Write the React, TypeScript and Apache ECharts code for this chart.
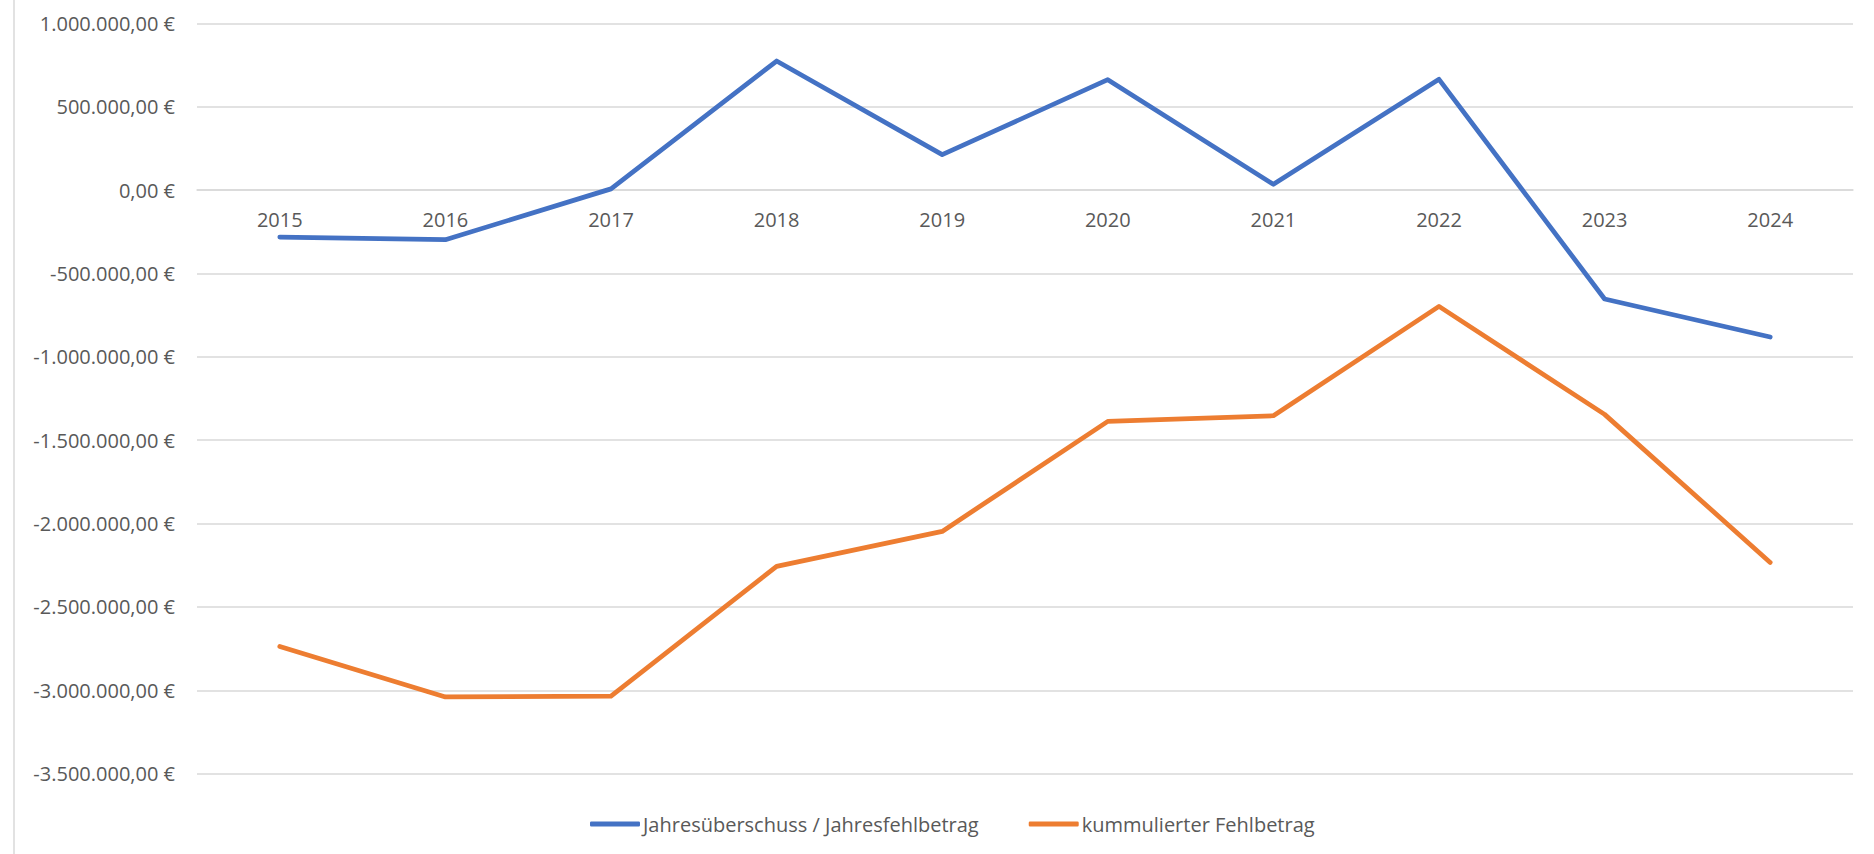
import React, { useEffect, useRef } from "react";
import * as echarts from "echarts";

const years = ["2015", "2016", "2017", "2018", "2019", "2020", "2021", "2022", "2023", "2024"];
const jahresErgebnis = [-281000, -297000, 8000, 775000, 213000, 663000, 35000, 665000, -653000, -881000];
const kumulierterFehlbetrag = [-2737000, -3040000, -3035000, -2257000, -2047000, -1387000, -1353000, -697000, -1345000, -2233000];
const seriesNames = ["Jahresüberschuss / Jahresfehlbetrag", "kummulierter Fehlbetrag"];

const yMin = -3500000;
const yMax = 1000000;
const yInterval = 500000;

const gridTop = 23.5;
const gridBottom = 80.4;
const chartHeight = 854;

function formatEuro(v: number): string {
  const neg = v < 0;
  const abs = Math.round(Math.abs(v));
  const s = String(abs).replace(/\B(?=(\d{3})+(?!\d))/g, ".");
  return (neg ? "-" : "") + s + ",00 €";
}

export default function App() {
  const ref = useRef<HTMLDivElement>(null);
  useEffect(() => {
    if (!ref.current) return;
    const chart = echarts.init(ref.current, undefined, { renderer: "svg" });
    const font = "'Open Sans', sans-serif";
    // move the category axis up to the zero line of the value axis
    const plotH = chartHeight - gridTop - gridBottom;
    const zeroFromBottom = ((0 - yMin) / (yMax - yMin)) * plotH;
    chart.setOption({
      animation: false,
      backgroundColor: "#ffffff",
      grid: { left: 197, right: 21, top: gridTop, bottom: gridBottom },
      xAxis: {
        type: "category",
        data: years,
        boundaryGap: true,
        position: "bottom",
        offset: -zeroFromBottom,
        axisLine: { show: true, onZero: false, lineStyle: { color: "#d9d9d9", width: 1.5 } },
        axisTick: { show: false },
        axisLabel: { color: "#595959", fontSize: 20, fontFamily: font, margin: 19 },
        splitLine: { show: false },
      },
      yAxis: {
        type: "value",
        min: yMin,
        max: yMax,
        interval: yInterval,
        axisLine: { show: false },
        axisTick: { show: false },
        axisLabel: {
          color: "#595959",
          fontSize: 20,
          fontFamily: font,
          margin: 22,
          formatter: (v: number) => formatEuro(v),
        },
        splitLine: { lineStyle: { color: "#d9d9d9", width: 1.5 } },
      },
      legend: {
        left: 585,
        top: 807,
        itemWidth: 50,
        itemHeight: 5,
        itemGap: 50,
        icon: "roundRect",
        textStyle: { color: "#595959", fontSize: 20, fontFamily: font, lineHeight: 24, padding: [0, 0, 0, -2] },
        data: seriesNames,
      },
      graphic: [
        {
          type: "line",
          shape: { x1: 14, y1: 0, x2: 14, y2: 854 },
          style: { stroke: "#d9d9d9", lineWidth: 1.5 },
        },
      ],
      series: [
        {
          name: seriesNames[0],
          type: "line",
          data: jahresErgebnis,
          symbol: "none",
          itemStyle: { color: "#4472C4" },
          lineStyle: { color: "#4472C4", width: 4.75, cap: "round", join: "round" },
        },
        {
          name: seriesNames[1],
          type: "line",
          data: kumulierterFehlbetrag,
          symbol: "none",
          itemStyle: { color: "#ED7D31" },
          lineStyle: { color: "#ED7D31", width: 4.75, cap: "round", join: "round" },
        },
      ],
    });
    return () => chart.dispose();
  }, []);
  return (
    <div
      ref={ref}
      style={{ position: "absolute", left: 0, top: 0, width: 1874, height: 854 }}
    />
  );
}
